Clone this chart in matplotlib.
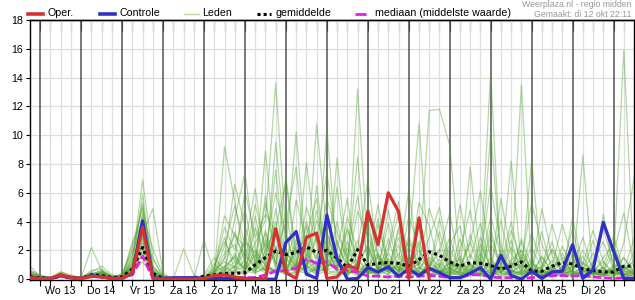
import numpy as np
import matplotlib
matplotlib.use('Agg')
import matplotlib.pyplot as plt
from matplotlib.lines import Line2D

plt.rcParams['font.family'] = ['Liberation Sans', 'DejaVu Sans']

# 6-hourly precipitation (mm), first step = 12 okt 18:00, hours from 13 okt 00:00
hours = np.arange(-6, 349, 6)
days = ['Wo 13', 'Do 14', 'Vr 15', 'Za 16', 'Zo 17', 'Ma 18', 'Di 19',
        'Wo 20', 'Do 21', 'Vr 22', 'Za 23', 'Zo 24', 'Ma 25', 'Di 26']

oper = [0.1, 0.05, 0.05, 0.3, 0.1, 0.05, 0.2, 0.15, 0.05, 0.05,
        0.45, 3.6, 0.05, 0, 0, 0, 0, 0.05, 0.25, 0.3,
        0.15, 0.05, 0, 0, 3.5, 0.45, 0.05, 2.9, 3.2, 0.05,
        0.15, 0.95, 0.7, 4.7, 2.4, 6.0, 4.7, 0.05, 4.25, 0.0]

controle = [0.1, 0.05, 0.05, 0.25, 0.1, 0.05, 0.25, 0.15, 0.05, 0.05,
            0.4, 4.05, 0.1, 0.05, 0.1, 0.1, 0.1, 0.05, 0.05, 0.05,
            0.05, 0.05, 0.05, 0.0, 0.0, 2.55, 3.3, 0.35, 0.05, 4.45,
            1.4, 0.0, 0.05, 0.8, 0.5, 0.85, 0.2, 0.7, 0.25, 0.75,
            0.45, 0.1, 0.1, 0.4, 0.8, 0.0, 1.65, 0.25, 0.0, 0.55,
            0.05, 0.5, 0.55, 2.4, 0.05, 0.65, 3.95, 1.95, 0.05, 0.05]

gemiddelde = [0.15, 0.1, 0.05, 0.25, 0.1, 0.05, 0.3, 0.25, 0.1, 0.15,
              0.7, 2.2, 0.4, 0.05, 0.05, 0.05, 0.05, 0.2, 0.3, 0.4,
              0.4, 0.45, 1.0, 1.5, 1.95, 1.7, 1.85, 2.25, 1.85, 2.0,
              1.45, 0.8, 2.05, 0.97, 1.1, 1.15, 1.1, 0.9, 1.35, 1.9,
              1.65, 1.2, 0.9, 1.15, 1.1, 0.95, 0.7, 0.9, 1.2, 0.55,
              0.55, 0.9, 1.15, 1.05, 0.7, 0.6, 0.5, 0.5, 0.9, 0.9]

mediaan = [0.05, 0.05, 0, 0.2, 0.05, 0, 0.2, 0.15, 0.05, 0.1,
           0.3, 1.6, 0.1, 0, 0, 0, 0, 0.05, 0.1, 0.1,
           0.1, 0.1, 0.1, 0.3, 0.55, 0.6, 0.75, 1.4, 1.1, 1.2,
           0.7, 0.6, 0.5, 0.2, 0.2, 0.15, 0.2, 0.15, 0.2, 0.25,
           0.2, 0.1, 0.1, 0.3, 0.3, 0.15, 0.1, 0.1, 0.05, 0.1,
           0.2, 0.25, 0.25, 0.2, 0.25, 0.15, 0.1, 0.05, 0.1, 0.05]

leden = [
    [0.9, 0.2, 0.1, 0.3, 0.1, 0, 0.1, 0.2, 0.1, 0.2, 1.2, 6.9, 1.5, 0.1, 0, 0, 0, 0.1, 0.3, 0.6,
     1.2, 0.8, 2.5, 4.1, 13.6, 3.2, 0.5, 1.8, 0.9, 2.4, 0.6, 0.2, 1.1, 3.5, 0.8, 0.3, 0.1, 1.6, 0.4, 0.9,
     2.1, 0.5, 0.2, 1.0, 0.3, 0.1, 0.8, 0.2, 0.6, 1.4, 0.3, 0.1, 0.5, 0.9, 0.2, 0.1, 0.4, 0.7, 0.2, 0.3],
    [0.3, 0.1, 0, 0.5, 0.2, 0.1, 0.4, 0.3, 0.1, 0.1, 2.4, 4.9, 0.3, 0, 0, 0, 0.1, 0.2, 0.5, 1.4,
     3.1, 2.2, 0.7, 8.9, 1.5, 0.4, 2.8, 0.6, 10.8, 3.2, 1.0, 0.4, 2.2, 0.7, 0.3, 1.9, 4.5, 0.8, 0.2, 1.1,
     0.6, 0.3, 2.8, 0.9, 0.2, 3.6, 0.5, 0.1, 0.4, 1.2, 0.2, 0.6, 1.8, 0.3, 0.1, 0.5, 0.2, 0.8, 0.1, 0.4],
    [0.1, 0, 0.1, 0.2, 0.1, 0.1, 2.2, 0.6, 0.1, 0.2, 0.8, 3.1, 4.9, 0.4, 0, 0, 0, 0, 0.2, 9.2,
     5.4, 1.1, 0.4, 2.0, 3.5, 6.8, 1.2, 0.3, 0.8, 0.5, 2.7, 0.6, 0.2, 1.4, 5.2, 0.9, 0.4, 2.3, 10.8, 0.7,
     0.3, 1.2, 0.5, 0.2, 2.4, 0.8, 0.1, 0.5, 1.7, 0.4, 0.9, 2.6, 0.3, 0.2, 1.1, 0.6, 0.3, 0.2, 1.5, 0.5],
    [0.5, 0.2, 0, 0.4, 0.1, 0, 0.2, 0.5, 0.2, 0.1, 1.6, 5.3, 0.8, 0.1, 0, 2.1, 0.3, 0, 0.1, 0.4,
     0.9, 2.6, 1.8, 0.6, 9.5, 2.1, 10.2, 1.4, 0.6, 2.9, 0.8, 3.4, 1.5, 0.4, 2.6, 0.7, 1.8, 0.5, 1.1, 11.7,
     11.8, 9.3, 1.2, 0.6, 0.3, 1.5, 0.4, 2.2, 0.7, 0.3, 1.6, 0.4, 0.2, 0.8, 2.9, 0.5, 0.2, 1.0, 0.3, 0.6],
    [0.2, 0.1, 0.1, 0.3, 0, 0.1, 0.3, 0.2, 0, 0.3, 0.5, 2.8, 0.6, 0, 0.1, 0, 0, 2.7, 0.4, 0.9,
     1.5, 0.5, 3.6, 1.2, 0.4, 1.9, 0.8, 8.1, 2.3, 0.6, 8.4, 1.2, 0.5, 0.3, 1.7, 0.6, 2.4, 0.3, 0.8, 0.5,
     1.4, 0.3, 0.6, 7.8, 1.2, 0.4, 2.0, 0.6, 0.2, 0.9, 0.4, 1.3, 0.6, 0.2, 0.5, 1.8, 0.7, 0.3, 0.2, 1.1],
    [0.4, 0.2, 0.1, 0.2, 0.1, 0.1, 0.5, 0.9, 0.3, 0.2, 0.9, 4.2, 0.2, 0.1, 0, 0, 0.2, 0.1, 0.8, 2.9,
     0.6, 1.3, 0.5, 2.8, 1.0, 4.6, 0.9, 2.1, 0.4, 10.5, 1.6, 0.3, 13.2, 2.0, 0.6, 0.3, 1.2, 0.4, 2.6, 0.8,
     0.5, 2.1, 0.8, 0.3, 1.1, 14.4, 0.6, 0.2, 1.5, 0.4, 0.2, 0.8, 0.5, 1.4, 0.3, 0.2, 0.6, 2.4, 0.4, 0.2],
    [0.1, 0, 0, 0.3, 0.2, 0.1, 0.2, 0.4, 0.1, 0.4, 1.9, 3.7, 0.9, 0.2, 0, 0, 0, 0.1, 0.3, 0.2,
     0.4, 0.6, 1.7, 0.5, 2.2, 0.6, 0.3, 1.5, 4.8, 0.9, 2.0, 5.6, 0.4, 0.9, 0.2, 2.8, 0.6, 1.3, 0.3, 0.6,
     0.9, 0.4, 1.6, 0.5, 0.2, 10.3, 1.3, 0.5, 13.5, 0.6, 0.3, 0.5, 1.2, 0.4, 0.2, 0.9, 0.3, 0.2, 0.6, 0.3],
    [0.2, 0.1, 0.1, 0.4, 0.1, 0, 0.3, 0.6, 0.2, 0.1, 0.7, 2.0, 0.4, 0.1, 0, 0, 0, 0, 0.5, 1.8,
     2.4, 0.7, 0.6, 3.4, 1.1, 0.3, 2.5, 0.7, 1.2, 0.4, 0.3, 1.0, 8.5, 0.6, 0.2, 1.3, 0.5, 3.0, 0.9, 0.3,
     0.8, 0.2, 0.5, 1.1, 0.4, 0.3, 0.9, 8.2, 1.0, 0.5, 0.6, 0.3, 0.2, 1.7, 0.5, 0.3, 0.8, 0.4, 0.3, 1.9],
    [0.6, 0.3, 0.1, 0.2, 0.1, 0.1, 0.2, 0.3, 0.1, 0.2, 1.1, 1.5, 0.3, 0, 0, 0, 0, 0.1, 0.2, 0.5,
     4.2, 7.4, 2.0, 0.9, 0.5, 1.6, 0.4, 0.8, 0.3, 1.9, 0.7, 0.4, 0.9, 5.1, 1.4, 0.5, 0.2, 0.9, 2.0, 0.6,
     0.4, 0.8, 0.3, 0.6, 1.8, 0.5, 0.2, 0.6, 0.4, 8.3, 0.5, 0.2, 0.9, 0.4, 0.3, 0.6, 1.2, 0.3, 0.9, 0.4],
    [0.3, 0.1, 0.1, 0.5, 0.3, 0.1, 0.4, 0.2, 0.1, 0.3, 0.6, 4.6, 2.1, 0.3, 0, 0, 0, 0.2, 1.1, 0.4,
     0.8, 3.0, 1.2, 0.6, 1.9, 0.5, 0.9, 3.7, 1.1, 0.5, 4.0, 0.8, 1.4, 0.3, 0.7, 3.9, 0.6, 0.4, 0.2, 1.3,
     0.6, 0.4, 1.0, 0.3, 0.5, 2.5, 0.9, 0.4, 0.3, 0.7, 0.2, 0.4, 0.6, 0.3, 8.6, 0.4, 0.2, 0.5, 0.8, 0.3],
    [0.2, 0.1, 0, 0.3, 0.1, 0, 0.3, 0.4, 0.1, 0.2, 0.4, 2.5, 0.2, 0, 0, 0, 0, 0, 0.1, 0.3,
     0.5, 0.4, 4.4, 0.8, 0.6, 2.0, 0.5, 0.9, 3.1, 0.4, 0.6, 2.2, 0.5, 1.1, 0.3, 0.6, 3.4, 0.5, 1.2, 0.4,
     0.3, 1.4, 0.6, 2.6, 0.4, 0.2, 0.5, 1.1, 0.3, 0.6, 3.3, 0.5, 0.3, 0.2, 0.6, 0.4, 4.5, 0.6, 0.3, 0.2],
    [0.4, 0.2, 0.1, 0.2, 0.2, 0.1, 0.6, 0.7, 0.2, 0.2, 0.9, 5.9, 0.5, 0.1, 0, 0, 0, 0, 0.6, 1.2,
     0.8, 1.9, 0.6, 1.4, 7.6, 1.0, 0.4, 2.4, 0.7, 1.5, 0.5, 0.3, 0.8, 0.5, 1.6, 0.4, 0.9, 0.3, 0.6, 2.0,
     0.4, 0.3, 0.9, 0.5, 1.3, 0.3, 0.6, 0.4, 1.1, 0.3, 0.5, 0.9, 0.3, 0.6, 0.2, 0.4, 0.3, 0.9, 15.9, 0.6],
    [0.1, 0, 0, 0.2, 0.1, 0.1, 0.3, 0.5, 0.2, 0.1, 1.4, 2.2, 0.6, 0.1, 0, 0, 0, 0, 0.3, 0.8,
     1.6, 0.6, 0.4, 0.9, 0.6, 0.4, 1.1, 0.5, 0.9, 2.1, 0.6, 0.9, 0.3, 0.6, 0.4, 1.0, 0.6, 0.8, 0.4, 0.5,
     1.1, 0.5, 0.4, 0.7, 0.3, 1.2, 0.5, 2.7, 0.4, 1.1, 0.7, 0.3, 0.5, 0.4, 0.8, 0.5, 0.3, 0.6, 0.9, 0.4],
    [0.3, 0.1, 0.1, 0.4, 0.1, 0, 0.2, 0.3, 0.1, 0.2, 0.7, 3.3, 0.4, 0, 0, 0, 0, 0.3, 1.5, 0.6,
     0.9, 0.5, 0.8, 5.8, 0.9, 0.6, 2.2, 0.9, 0.5, 3.3, 1.2, 0.5, 0.4, 0.9, 1.8, 0.6, 0.4, 1.4, 0.5, 0.3,
     0.5, 1.1, 0.3, 0.5, 0.7, 0.4, 1.6, 0.5, 0.4, 0.8, 0.4, 0.6, 1.5, 0.5, 0.3, 0.7, 0.4, 0.3, 0.5, 0.6],
    [0.2, 0.1, 0.1, 0.3, 0.2, 0.1, 0.2, 0.4, 0.1, 0.3, 0.5, 1.2, 0.2, 0, 0, 0, 0, 0, 0.2, 0.4,
     0.6, 0.9, 0.5, 0.7, 0.5, 1.4, 0.6, 0.4, 0.7, 0.6, 1.0, 0.4, 0.6, 0.4, 0.5, 0.7, 0.9, 0.3, 0.6, 0.4,
     0.3, 0.6, 0.5, 0.4, 0.3, 0.7, 0.4, 0.3, 0.6, 0.4, 0.5, 0.3, 0.4, 0.6, 0.3, 0.4, 0.5, 0.4, 0.3, 0.5],
    [0.1, 0, 0, 0.2, 0.1, 0, 0.1, 0.2, 0, 0.2, 2.6, 3.9, 0.7, 0.2, 0, 0, 0, 0, 0.4, 2.3,
     5.1, 2.4, 6.3, 1.5, 4.0, 0.8, 5.5, 2.6, 1.4, 4.3, 1.1, 3.6, 0.9, 2.4, 0.6, 4.8, 1.3, 6.2, 0.9, 2.9,
     5.0, 1.2, 0.6, 3.1, 0.8, 4.4, 1.6, 0.5, 2.8, 1.0, 0.6, 2.1, 0.8, 3.5, 0.4, 1.2, 2.6, 0.7, 1.5, 0.5],
    [0.5, 0.2, 0.1, 0.3, 0.1, 0.1, 0.4, 0.6, 0.1, 0.1, 0.8, 2.6, 0.5, 0.1, 0, 0, 0, 0, 0.7, 3.6,
     2.0, 4.9, 1.0, 3.2, 0.7, 7.1, 1.8, 3.0, 5.6, 1.2, 6.4, 0.8, 2.7, 0.4, 3.8, 1.1, 0.5, 4.4, 2.1, 0.6,
     3.3, 0.7, 5.2, 1.4, 3.9, 0.6, 5.6, 1.8, 0.5, 3.2, 1.1, 0.4, 2.3, 0.7, 1.6, 0.3, 0.9, 3.0, 0.6, 1.3],
    [0.2, 0.1, 0, 0.3, 0.1, 0, 0.2, 0.4, 0.2, 0.2, 1.7, 4.4, 0.4, 0, 0, 0, 0, 0.1, 0.2, 0.7,
     3.3, 1.1, 5.2, 2.1, 6.0, 3.0, 0.9, 5.0, 2.6, 7.4, 2.4, 0.9, 4.7, 3.0, 0.7, 2.2, 5.4, 1.0, 3.6, 0.8,
     1.9, 4.6, 0.9, 2.5, 6.1, 1.3, 0.7, 3.4, 1.2, 5.3, 2.4, 0.9, 3.8, 1.4, 0.6, 2.7, 0.5, 1.8, 4.6, 0.9],
    [0.3, 0.1, 0.1, 0.4, 0.2, 0.1, 0.3, 0.3, 0.1, 0.2, 1.0, 3.0, 1.4, 0.2, 0, 0, 0, 0, 0.3, 1.5,
     6.6, 3.7, 1.4, 5.3, 2.0, 3.9, 7.8, 0.8, 4.1, 2.2, 0.6, 4.3, 2.0, 6.9, 1.5, 0.7, 2.9, 0.6, 5.3, 3.7,
     0.8, 2.4, 3.7, 0.6, 1.5, 6.5, 2.3, 0.9, 2.0, 0.6, 4.9, 1.6, 0.5, 2.2, 1.0, 3.4, 1.2, 0.4, 2.5, 7.0],
    [0.4, 0.1, 0.1, 0.2, 0.1, 0.1, 0.2, 0.5, 0.1, 0.3, 2.1, 5.1, 0.9, 0.1, 0, 0, 0, 0, 0.9, 2.6,
     1.2, 6.1, 2.9, 4.5, 3.3, 2.0, 0.8, 4.0, 1.5, 5.6, 3.2, 1.5, 5.8, 1.2, 4.2, 0.5, 3.6, 2.2, 1.0, 4.9,
     2.7, 0.5, 2.0, 4.8, 0.7, 3.0, 1.0, 4.0, 0.8, 2.2, 0.7, 3.8, 1.3, 0.5, 2.0, 0.8, 3.5, 1.1, 0.6, 2.8],
    [0.2, 0.1, 0.1, 0.3, 0.1, 0, 0.2, 0.3, 0.1, 0.1, 0.6, 1.8, 0.3, 0, 0, 0, 0, 0, 0.5, 0.9,
     0.4, 2.7, 0.9, 0.6, 4.9, 1.2, 3.4, 0.5, 6.5, 1.0, 0.9, 2.6, 0.7, 4.1, 0.5, 1.8, 0.7, 0.4, 1.5, 0.7,
     4.2, 0.9, 1.4, 0.3, 2.9, 0.6, 4.1, 0.8, 2.6, 0.4, 1.5, 0.6, 0.3, 4.3, 0.8, 0.4, 1.5, 2.4, 0.3, 0.8],
    [0.3, 0.1, 0, 0.2, 0.1, 0.1, 0.3, 0.4, 0.1, 0.2, 0.9, 3.5, 0.6, 0.1, 0, 0, 0, 0, 0.2, 0.5,
     1.8, 0.6, 2.0, 1.0, 0.5, 1.1, 0.6, 1.3, 0.4, 0.8, 1.4, 0.5, 1.0, 0.4, 0.9, 0.5, 1.1, 0.6, 0.4, 0.9,
     0.5, 0.8, 0.4, 1.0, 0.6, 0.3, 0.8, 0.5, 0.9, 0.3, 0.6, 0.4, 0.8, 0.3, 0.5, 0.9, 0.4, 0.6, 0.3, 0.5],
    [0.6, 0.2, 0.1, 0.4, 0.1, 0.1, 0.2, 0.3, 0.1, 0.1, 1.3, 2.9, 0.5, 0, 0, 0, 0, 0, 0.6, 4.4,
     3.0, 1.6, 0.8, 2.5, 1.2, 0.6, 1.9, 0.7, 2.9, 0.8, 1.8, 0.6, 1.1, 2.3, 0.6, 1.4, 0.5, 2.7, 0.7, 1.5,
     0.9, 2.9, 0.6, 1.7, 0.5, 1.0, 0.4, 1.3, 2.0, 0.6, 0.8, 2.0, 0.5, 0.9, 1.2, 0.4, 0.8, 0.3, 0.7, 1.2],
    [0.2, 0.1, 0.1, 0.3, 0.2, 0.1, 0.4, 0.5, 0.2, 0.2, 0.8, 2.3, 0.2, 0, 0, 0, 0, 0, 0.1, 0.3,
     0.6, 0.3, 0.9, 0.4, 0.7, 0.3, 0.5, 1.0, 0.3, 0.6, 0.4, 0.8, 0.3, 0.5, 0.4, 0.7, 0.3, 0.5, 0.8, 0.3,
     0.6, 0.4, 0.3, 0.5, 0.8, 0.4, 0.3, 0.6, 0.4, 0.5, 0.3, 0.7, 0.4, 0.3, 0.6, 0.3, 0.4, 0.5, 0.3, 0.4],
]

RED = '#d63232'
BLUE = '#3030c8'
GREEN = '#4ea22a'
MAGENTA = '#e020e0'

fig = plt.figure(figsize=(6.35, 3.0), dpi=100)
ax = fig.add_axes([30 / 635, 20 / 300, 604 / 635, 260 / 300])

# grid: light every 6 h, dark at midnight, horizontal every 2 mm
for h in range(0, 348, 6):
    if h % 24 == 0:
        ax.axvline(h, color='#555555', lw=1.1, zorder=0.6)
    else:
        ax.axvline(h, color='#dddddd', lw=0.9, zorder=0.5)
for v in range(2, 18, 2):
    ax.axhline(v, color='#dddddd', lw=0.9, zorder=0.5)

n_oper = len(oper)
for lid in leden:
    ax.plot(hours, lid, color=GREEN, lw=0.9, alpha=0.42, zorder=2)
ax.plot(hours, mediaan, color=MAGENTA, lw=2.0, ls=(0, (3, 1)), zorder=3)
ax.plot(hours, gemiddelde, color='black', lw=2.2, ls=(0, (1, 1)),
        dash_capstyle='butt', zorder=4)
ax.plot(hours, controle, color=BLUE, lw=2.3, zorder=5)
ax.plot(hours[:n_oper], oper, color=RED, lw=2.3, zorder=6)

ax.set_xlim(-6, 348)
ax.set_ylim(-0.06, 18)
ax.set_yticks(range(0, 19, 2))
ax.tick_params(axis='y', direction='out', length=3, labelsize=7.7, pad=2)

ax.set_xticks([12 + 24 * d for d in range(len(days))])
ax.set_xticklabels(days)
ax.set_xticks(range(0, 348, 6), minor=True)
ax.tick_params(axis='x', which='major', length=0, labelsize=7.7, pad=4)
ax.tick_params(axis='x', which='minor', direction='out', length=4, width=0.8)

top = ax.secondary_xaxis('top')
top.set_xticks(range(0, 348, 6))
top.tick_params(direction='in', length=8, width=0.8, labeltop=False)
top.spines['top'].set_linewidth(1.0)

for s in ax.spines.values():
    s.set_color('black')
    s.set_linewidth(1.0)

# legend above the plot
ly = 1 - 13.5 / 300
def handle(x0, x1, **kw):
    fig.add_artist(Line2D([x0 / 635, x1 / 635], [ly, ly], transform=fig.transFigure, **kw))

def label(x, s):
    fig.text(x / 635, ly, s, fontsize=7.7, va='center', ha='left')

handle(28, 43, color=RED, lw=2.6)
label(48, 'Oper.')
handle(100, 115, color=BLUE, lw=2.6)
label(119, 'Controle')
handle(184, 199, color='#b8d8a8', lw=1.0)
label(202, 'Leden')
handle(257, 271, color='black', lw=2.2, ls=(0, (1, 1)), dash_capstyle='butt')
label(276, 'gemiddelde')
handle(355, 369, color=MAGENTA, lw=2.0, ls=(0, (4, 1, 0.6, 1)))
label(375, 'mediaan (middelste waarde)')

fig.text(632 / 635, 1 - 4.5 / 300, 'Weerplaza.nl - regio midden', fontsize=6.3,
         color='#999999', ha='right', va='center')
fig.text(632 / 635, 1 - 14.5 / 300, 'Gemaakt: di 12 okt 22:11', fontsize=6.3,
         color='#999999', ha='right', va='center')

fig.savefig('out.png', dpi=100)
